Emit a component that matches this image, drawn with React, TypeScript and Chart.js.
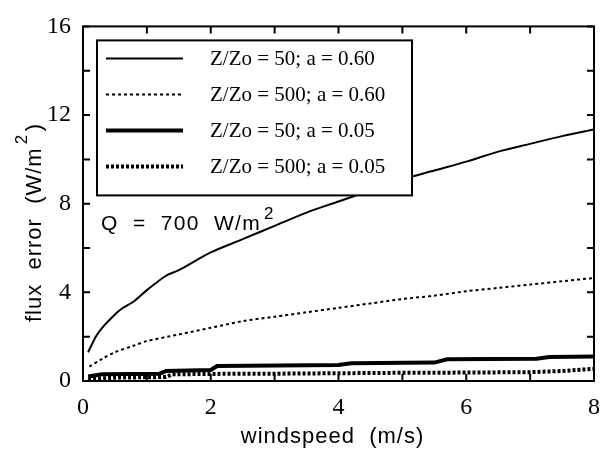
import React, { useEffect, useRef } from "react";
import { Chart, registerables } from "chart.js";

Chart.register(...registerables);

// windspeed (m/s) values and flux error (W/m^2) for each case
const solidThinX = [0.08, 0.2, 0.3, 0.5, 0.6, 0.8, 1, 1.3, 1.5, 2, 2.5, 3, 3.5, 4, 4.5, 5, 5.5, 6, 6.5, 7, 7.5, 8];
const solidThinY = [1.3, 2.0, 2.4, 3.0, 3.25, 3.6, 4.1, 4.75, 5.0, 5.8, 6.4, 7.0, 7.6, 8.1, 8.6, 9.1, 9.5, 9.9, 10.35, 10.7, 11.05, 11.35];

const dotThinX = [0.1, 0.3, 0.5, 0.8, 1, 1.5, 2, 2.5, 3, 3.5, 4, 4.5, 5, 5.5, 6, 6.5, 7, 7.5, 8];
const dotThinY = [0.65, 1.0, 1.3, 1.6, 1.8, 2.1, 2.4, 2.7, 2.9, 3.1, 3.3, 3.5, 3.7, 3.85, 4.05, 4.2, 4.35, 4.5, 4.65];

const solidThickX = [0.08, 0.3, 1.2, 1.3, 2.0, 2.1, 4.0, 4.2, 5.5, 5.7, 7.1, 7.3, 8];
const solidThickY = [0.2, 0.3, 0.33, 0.45, 0.5, 0.68, 0.72, 0.8, 0.83, 0.98, 1.0, 1.08, 1.1];

const dotThickX = [0.08, 0.5, 1.3, 1.4, 2, 3, 4, 5, 6, 7, 7.5, 8];
const dotThickY = [0.08, 0.15, 0.18, 0.3, 0.32, 0.33, 0.35, 0.37, 0.38, 0.4, 0.45, 0.55];

const seriesLabels = [
  "Z/Zo = 50; a = 0.60",
  "Z/Zo = 500; a = 0.60",
  "Z/Zo = 50; a = 0.05",
  "Z/Zo = 500; a = 0.05",
];

const xTickValues = [0, 1, 2, 3, 4, 5, 6, 7, 8];
const yTickValues = [0, 2, 4, 6, 8, 10, 12, 14, 16];

const toPts = (xs: number[], ys: number[]) => xs.map((x, i) => ({ x, y: ys[i] }));

const decorPlugin = {
  id: "decor",
  afterDraw(chart: any) {
    const { ctx, chartArea: a, scales } = chart;
    const xs = scales.x;
    const ys = scales.y;
    ctx.save();
    ctx.strokeStyle = "#000";
    ctx.fillStyle = "#000";
    // frame
    ctx.lineWidth = 2;
    ctx.strokeRect(a.left, a.top, a.right - a.left, a.bottom - a.top);
    // inward ticks
    const tl = 7;
    ctx.beginPath();
    xTickValues.forEach((v) => {
      const px = xs.getPixelForValue(v);
      ctx.moveTo(px, a.bottom);
      ctx.lineTo(px, a.bottom - tl);
      ctx.moveTo(px, a.top);
      ctx.lineTo(px, a.top + tl);
    });
    yTickValues.forEach((v) => {
      const py = ys.getPixelForValue(v);
      ctx.moveTo(a.left, py);
      ctx.lineTo(a.left + tl, py);
      ctx.moveTo(a.right, py);
      ctx.lineTo(a.right - tl, py);
    });
    ctx.stroke();

    // legend box
    const lx = a.left + 14;
    const ly = a.top + 14;
    const lw = 315;
    const lh = 155;
    ctx.fillStyle = "#fff";
    ctx.fillRect(lx, ly, lw, lh);
    ctx.lineWidth = 2;
    ctx.strokeRect(lx, ly, lw, lh);
    ctx.fillStyle = "#000";
    ctx.font = "21px 'Liberation Serif', serif";
    ctx.textBaseline = "middle";
    ctx.textAlign = "left";
    chart.data.datasets.forEach((ds: any, i: number) => {
      const ry = ly + 18 + i * 36;
      ctx.save();
      ctx.lineWidth = ds.borderWidth;
      ctx.setLineDash(ds.borderDash || []);
      ctx.beginPath();
      ctx.moveTo(lx + 9, ry);
      ctx.lineTo(lx + 86, ry);
      ctx.stroke();
      ctx.restore();
      ctx.fillText(seriesLabels[i], lx + 113, ry + 1);
    });

    // Q annotation
    ctx.font = "21px 'Liberation Sans', Arial, sans-serif";
    (ctx as any).letterSpacing = "1.3px";
    ctx.textBaseline = "alphabetic";
    const qText = "Q  =  700  W/m";
    const qx = a.left + 18;
    const qy = a.top + 204;
    ctx.fillText(qText, qx, qy);
    const qw = ctx.measureText(qText).width;
    ctx.font = "17px 'Liberation Sans', Arial, sans-serif";
    ctx.fillText("2", qx + qw + 3, qy - 11);

    // x title
    ctx.font = "22px 'Liberation Sans', Arial, sans-serif";
    (ctx as any).letterSpacing = "1px";
    ctx.textAlign = "center";
    ctx.fillText("windspeed  (m/s)", (a.left + a.right) / 2 - 6, 443);

    // y title (rotated)
    ctx.save();
    ctx.translate(41, a.bottom - 59);
    ctx.rotate(-Math.PI / 2);
    ctx.textAlign = "left";
    ctx.font = "22px 'Liberation Sans', Arial, sans-serif";
    const yt = "flux  error  (W/m";
    ctx.fillText(yt, 0, 0);
    const yw = ctx.measureText(yt).width;
    ctx.font = "17px 'Liberation Sans', Arial, sans-serif";
    ctx.fillText("2", yw + 3, -14);
    ctx.font = "22px 'Liberation Sans', Arial, sans-serif";
    ctx.fillText(")", yw + 16, 0);
    ctx.restore();

    ctx.restore();
  },
};

export default function App() {
  const ref = useRef<HTMLCanvasElement | null>(null);
  useEffect(() => {
    document.body.style.margin = "0";
    if (!ref.current) return;
    const chart = new Chart(ref.current, {
      type: "line",
      data: {
        datasets: [
          { label: seriesLabels[0], data: toPts(solidThinX, solidThinY), borderColor: "#000", borderWidth: 2, pointRadius: 0, tension: 0.3 },
          { label: seriesLabels[1], data: toPts(dotThinX, dotThinY), borderColor: "#000", borderWidth: 2, borderDash: [3, 3], pointRadius: 0, tension: 0.3 },
          { label: seriesLabels[2], data: toPts(solidThickX, solidThickY), borderColor: "#000", borderWidth: 4, pointRadius: 0 },
          { label: seriesLabels[3], data: toPts(dotThickX, dotThickY), borderColor: "#000", borderWidth: 4, borderDash: [3, 2], pointRadius: 0 },
        ],
      },
      options: {
        animation: false,
        responsive: false,
        maintainAspectRatio: false,
        layout: { padding: { top: 13, right: 6, left: 0, bottom: 0 } },
        plugins: { legend: { display: false }, tooltip: { enabled: false } },
        scales: {
          x: {
            type: "linear",
            min: 0,
            max: 8,
            grid: { display: false, drawTicks: false },
            border: { display: false },
            ticks: { stepSize: 2, color: "#000", padding: 12, font: { family: "'Liberation Serif', serif", size: 24 } },
            afterFit: (s: any) => { s.height = 70; },
          },
          y: {
            type: "linear",
            min: 0,
            max: 16,
            grid: { display: false, drawTicks: false },
            border: { display: false },
            ticks: { stepSize: 4, color: "#000", padding: 12, font: { family: "'Liberation Serif', serif", size: 24 } },
            afterFit: (s: any) => { s.width = 83; },
          },
        },
      },
      plugins: [decorPlugin],
    } as any);
    return () => chart.destroy();
  }, []);
  return (
    <div style={{ width: 612, height: 451, background: "#fff" }}>
      <canvas ref={ref} width={612} height={451} style={{ display: "block" }} />
    </div>
  );
}
